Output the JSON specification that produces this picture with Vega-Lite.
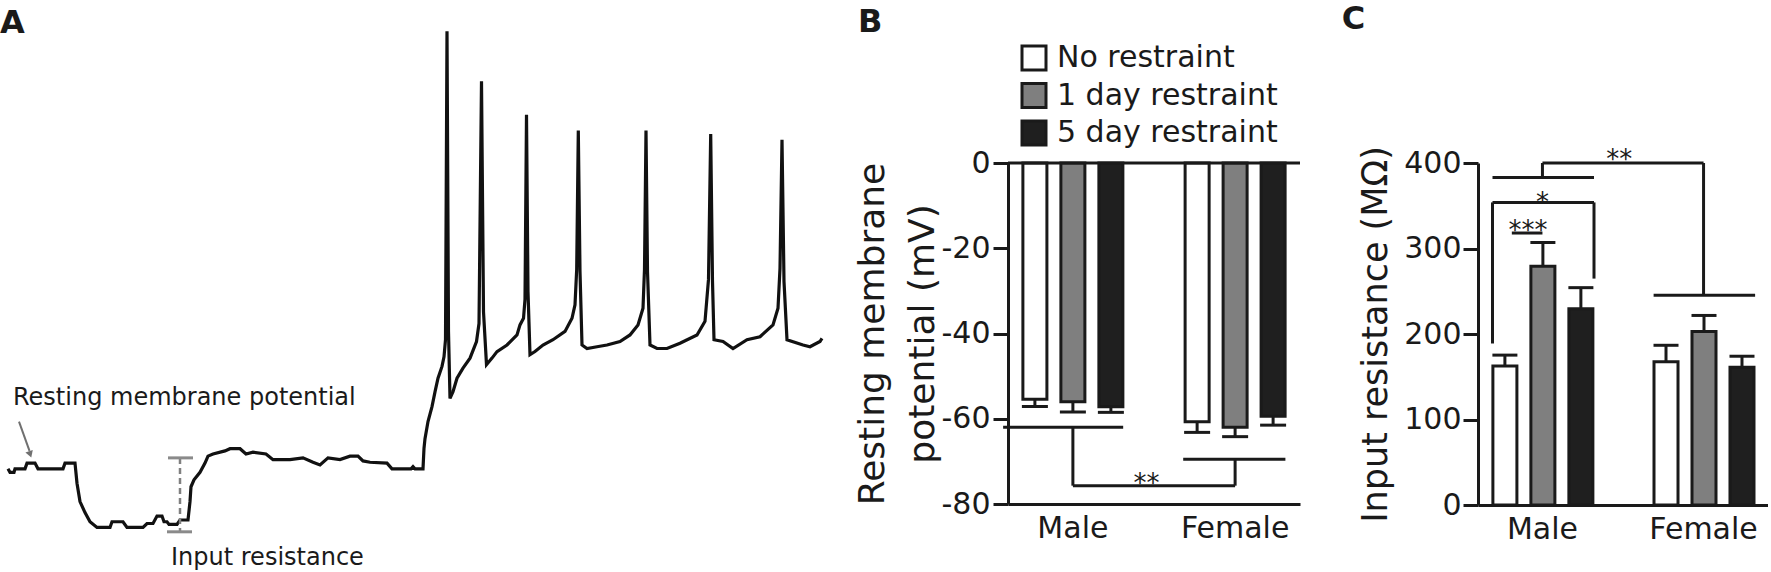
{
  "$schema": "https://vega.github.io/schema/vega-lite/v6.json",
  "padding": {"left": 0, "top": 2, "right": 0, "bottom": 0},
  "background": "white",
  "bounds": "flush",
  "spacing": 178,
  "resolve": {"scale": {"fill": "independent"}, "legend": {"fill": "independent"}},
  "config": {
    "view": {"stroke": null},
    "font": "DejaVu Sans",
    "title": {"font": "DejaVu Sans", "fontSize": 32, "fontWeight": "bold", "anchor": "start", "frame": "bounds", "color": "#1a1a1a"},
    "axis": {"domainColor": "#1a1a1a", "tickColor": "#1a1a1a", "labelColor": "#1a1a1a", "titleColor": "#1a1a1a", "labelFont": "DejaVu Sans", "titleFont": "DejaVu Sans", "labelFontSize": 30, "titleFontSize": 35, "titleFontWeight": "normal", "domainWidth": 3, "tickWidth": 3, "grid": false}
  },
  "datasets": {
    "trace": [
      {"t": 8, "v": -59.9}, {"t": 10, "v": -60.7}, {"t": 14, "v": -60.7}, {"t": 15, "v": -59.9}, {"t": 25, "v": -59.9},
      {"t": 27, "v": -58.6}, {"t": 35, "v": -58.6}, {"t": 38, "v": -59.9}, {"t": 63, "v": -59.9}, {"t": 65, "v": -58.6},
      {"t": 75, "v": -58.6}, {"t": 77, "v": -63.2}, {"t": 80, "v": -67.4}, {"t": 85, "v": -69.9}, {"t": 90, "v": -72.0},
      {"t": 97, "v": -73.3}, {"t": 110, "v": -73.3}, {"t": 112, "v": -72.0}, {"t": 123, "v": -72.0}, {"t": 127, "v": -73.3},
      {"t": 143, "v": -73.3}, {"t": 147, "v": -72.4}, {"t": 153, "v": -72.4}, {"t": 157, "v": -70.7}, {"t": 162, "v": -70.7},
      {"t": 164, "v": -72.0}, {"t": 167, "v": -72.0}, {"t": 169, "v": -72.6}, {"t": 177, "v": -72.6}, {"t": 180, "v": -71.6},
      {"t": 188, "v": -71.6}, {"t": 190, "v": -67.4}, {"t": 191, "v": -64.0}, {"t": 194, "v": -62.4}, {"t": 200, "v": -60.7},
      {"t": 205, "v": -58.6}, {"t": 208, "v": -57.0}, {"t": 213, "v": -56.5}, {"t": 225, "v": -55.8}, {"t": 230, "v": -55.3},
      {"t": 240, "v": -55.3}, {"t": 246, "v": -56.5}, {"t": 253, "v": -56.1}, {"t": 266, "v": -56.5}, {"t": 273, "v": -57.8},
      {"t": 290, "v": -57.8}, {"t": 303, "v": -57.4}, {"t": 313, "v": -58.4}, {"t": 320, "v": -59.0}, {"t": 328, "v": -57.4},
      {"t": 340, "v": -57.8}, {"t": 350, "v": -57.0}, {"t": 358, "v": -57.0}, {"t": 363, "v": -58.1}, {"t": 370, "v": -58.4},
      {"t": 387, "v": -58.6}, {"t": 392, "v": -59.9}, {"t": 411, "v": -59.9}, {"t": 413, "v": -59.4}, {"t": 415, "v": -59.9},
      {"t": 423, "v": -59.9}, {"t": 424, "v": -55.2}, {"t": 425, "v": -53.0}, {"t": 428, "v": -49.1}, {"t": 432, "v": -45.7},
      {"t": 435, "v": -42.3}, {"t": 438, "v": -39.2}, {"t": 442, "v": -36.5}, {"t": 444, "v": -34.3}, {"t": 445.5, "v": -30.4},
      {"t": 447, "v": 40.1}, {"t": 448.5, "v": -28.5}, {"t": 450, "v": -43.8}, {"t": 453, "v": -42.3}, {"t": 457, "v": -39.2},
      {"t": 463, "v": -36.9}, {"t": 470, "v": -34.6}, {"t": 476.5, "v": -30.8}, {"t": 479, "v": -26.7}, {"t": 481.5, "v": 28.7},
      {"t": 483.5, "v": -24.0}, {"t": 486.5, "v": -36.1}, {"t": 492, "v": -34.6}, {"t": 497, "v": -33.1}, {"t": 507, "v": -31.6},
      {"t": 517, "v": -29.3}, {"t": 520, "v": -27.0}, {"t": 523.5, "v": -25.5}, {"t": 525, "v": -21.2}, {"t": 526.5, "v": 21.0},
      {"t": 528, "v": -19.4}, {"t": 530, "v": -33.8}, {"t": 535, "v": -33.1}, {"t": 543, "v": -31.6}, {"t": 553, "v": -30.4},
      {"t": 565, "v": -28.5}, {"t": 572, "v": -25.5}, {"t": 575, "v": -22.4}, {"t": 576.7, "v": -14.3}, {"t": 578.3, "v": 17.4},
      {"t": 580, "v": -14.8}, {"t": 582, "v": -31.6}, {"t": 587, "v": -32.4}, {"t": 597, "v": -32.0}, {"t": 607, "v": -31.6},
      {"t": 620, "v": -30.8}, {"t": 630, "v": -29.3}, {"t": 638, "v": -27.0}, {"t": 643, "v": -23.2}, {"t": 644.5, "v": -14.3},
      {"t": 646, "v": 17.4}, {"t": 647.5, "v": -14.8}, {"t": 650, "v": -31.6}, {"t": 657, "v": -32.4}, {"t": 667, "v": -32.4},
      {"t": 680, "v": -31.2}, {"t": 697, "v": -29.3}, {"t": 705, "v": -26.2}, {"t": 708.5, "v": -16.6}, {"t": 710.7, "v": 16.6},
      {"t": 712.5, "v": -17.1}, {"t": 714, "v": -30.4}, {"t": 723, "v": -30.8}, {"t": 733, "v": -32.4}, {"t": 747, "v": -30.4},
      {"t": 760, "v": -29.7}, {"t": 773, "v": -27.0}, {"t": 778, "v": -23.2}, {"t": 780, "v": -14.1}, {"t": 782, "v": 15.3},
      {"t": 784, "v": -17.1}, {"t": 787, "v": -30.4}, {"t": 803, "v": -31.6}, {"t": 810, "v": -32.0}, {"t": 820, "v": -30.8},
      {"t": 822, "v": -30.1}
    ],
    "rmp": [
      {"sex": "Male", "cond": "No restraint", "v": -55.4, "err": -57.1},
      {"sex": "Male", "cond": "1 day restraint", "v": -56.0, "err": -58.4},
      {"sex": "Male", "cond": "5 day restraint", "v": -57.2, "err": -58.5},
      {"sex": "Female", "cond": "No restraint", "v": -60.7, "err": -63.2},
      {"sex": "Female", "cond": "1 day restraint", "v": -62.0, "err": -64.2},
      {"sex": "Female", "cond": "5 day restraint", "v": -59.4, "err": -61.5}
    ],
    "ir": [
      {"sex": "Male", "cond": "No restraint", "v": 162.5, "err": 175.3},
      {"sex": "Male", "cond": "1 day restraint", "v": 279.3, "err": 307.0},
      {"sex": "Male", "cond": "5 day restraint", "v": 229.4, "err": 254.2},
      {"sex": "Female", "cond": "No restraint", "v": 167.6, "err": 186.8},
      {"sex": "Female", "cond": "1 day restraint", "v": 203.0, "err": 221.7},
      {"sex": "Female", "cond": "5 day restraint", "v": 161.2, "err": 174.0}
    ],
    "bracketsB": [
      {"x": -0.43, "x2": 0.31, "y": -62.0, "y2": -62.0},
      {"x": 0, "x2": 0, "y": -62.0, "y2": -75.7},
      {"x": 0, "x2": 1.0, "y": -75.7, "y2": -75.7},
      {"x": 1.0, "x2": 1.0, "y": -75.7, "y2": -69.5},
      {"x": 0.68, "x2": 1.31, "y": -69.5, "y2": -69.5}
    ],
    "starsB": [{"x": 0.454, "y": -77.1, "label": "**"}],
    "bracketsC": [
      {"x": -0.19, "x2": 0, "y": 318.1, "y2": 318.1},
      {"x": -0.31, "x2": -0.31, "y": 188.9, "y2": 353.9},
      {"x": -0.31, "x2": 0.32, "y": 353.9, "y2": 353.9},
      {"x": 0.32, "x2": 0.32, "y": 353.9, "y2": 264.8},
      {"x": -0.31, "x2": 0.32, "y": 382.9, "y2": 382.9},
      {"x": 0, "x2": 0, "y": 382.9, "y2": 400},
      {"x": 0, "x2": 1.0, "y": 400, "y2": 400},
      {"x": 1.0, "x2": 1.0, "y": 400, "y2": 245.2},
      {"x": 0.69, "x2": 1.32, "y": 245.2, "y2": 245.2}
    ],
    "starsC": [
      {"x": -0.09, "y": 311.0, "label": "***"},
      {"x": 0.0, "y": 344.4, "label": "*"},
      {"x": 0.477, "y": 394.3, "label": "**"}
    ]
  },
  "hconcat": [
    {
      "width": 830,
      "height": 350,
      "title": {"text": "A", "offset": 0, "dy": 15},
      "layer": [
        {
          "data": {"name": "trace"},
          "mark": {"type": "line", "stroke": "#111111", "strokeWidth": 3.2, "clip": false},
          "encoding": {
            "x": {"field": "t", "type": "quantitative", "scale": {"domain": [0, 830], "nice": false, "zero": false}, "axis": null},
            "y": {"field": "v", "type": "quantitative", "scale": {"domain": [-70, 10], "nice": false, "zero": false}, "axis": null}
          }
        },
        {
          "data": {"values": [{"x": 180, "y": -57.4, "y2": -74.1}]},
          "mark": {"type": "rule", "stroke": "#808080", "strokeWidth": 2.5, "strokeDash": [6, 4]},
          "encoding": {
            "x": {"field": "x", "type": "quantitative"},
            "y": {"field": "y", "type": "quantitative"},
            "y2": {"field": "y2"}
          }
        },
        {
          "data": {"values": [{"x": 168, "x2": 193, "y": -57.4}, {"x": 167, "x2": 192, "y": -74.3}]},
          "mark": {"type": "rule", "stroke": "#8a8a8a", "strokeWidth": 3},
          "encoding": {
            "x": {"field": "x", "type": "quantitative"},
            "x2": {"field": "x2"},
            "y": {"field": "y", "type": "quantitative"}
          }
        },
        {
          "data": {"values": [{"x": 19, "x2": 29.5, "y": -49.1, "y2": -55.8}]},
          "mark": {"type": "rule", "stroke": "#707070", "strokeWidth": 2},
          "encoding": {
            "x": {"field": "x", "type": "quantitative"},
            "x2": {"field": "x2"},
            "y": {"field": "y", "type": "quantitative"},
            "y2": {"field": "y2"}
          }
        },
        {
          "data": {"values": [{"x": 30.2, "y": -56.6}]},
          "mark": {"type": "point", "shape": "triangle-down", "angle": -19, "size": 60, "filled": true, "color": "#707070", "opacity": 1},
          "encoding": {
            "x": {"field": "x", "type": "quantitative"},
            "y": {"field": "y", "type": "quantitative"}
          }
        },
        {
          "data": {"values": [{"x": 13, "y": -45.3, "label": "Resting membrane potential"}, {"x": 171, "y": -81.9, "label": "Input resistance"}]},
          "mark": {"type": "text", "font": "DejaVu Sans", "fontSize": 24, "align": "left", "baseline": "alphabetic", "color": "#1a1a1a"},
          "encoding": {
            "x": {"field": "x", "type": "quantitative"},
            "y": {"field": "y", "type": "quantitative"},
            "text": {"field": "label"}
          }
        }
      ]
    },
    {
      "width": 292,
      "height": 341,
      "title": {"text": "B", "offset": 0, "dy": -3.6, "dx": 4},
      "resolve": {"scale": {"x": "independent"}, "axis": {"x": "independent"}},
      "layer": [
        {
          "data": {"name": "rmp"},
          "layer": [
            {
              "mark": {"type": "bar", "stroke": "#1a1a1a", "strokeWidth": 3},
              "encoding": {
                "x": {"field": "sex", "type": "nominal", "sort": ["Male", "Female"], "scale": {"paddingInner": 0.2, "paddingOuter": 0}, "axis": {"title": null, "ticks": false, "tickSize": 0, "labelAngle": 0, "labelPadding": 9, "domainWidth": 3}},
                "xOffset": {"field": "cond", "type": "nominal", "sort": ["No restraint", "1 day restraint", "5 day restraint"], "scale": {"paddingInner": 0.368, "paddingOuter": 0.392}},
                "y": {"field": "v", "type": "quantitative", "scale": {"domain": [-80, 0], "nice": false}, "axis": {"values": [0, -20, -40, -60, -80], "labelExpr": "replace(datum.label, '\u2212', '-')", "tickSize": 15, "labelPadding": 3, "title": ["Resting membrane", "potential (mV)"], "titleFontSize": 36, "titlePadding": 0, "titleLineHeight": 50}},
                "fill": {"field": "cond", "type": "nominal", "sort": ["No restraint", "1 day restraint", "5 day restraint"], "scale": {"domain": ["No restraint", "1 day restraint", "5 day restraint"], "range": ["#ffffff", "#7f7f7f", "#1f1f1f"]},
                  "legend": {"title": null, "orient": "none", "legendX": 11, "legendY": -120, "direction": "vertical", "symbolType": "square", "symbolSize": 576, "symbolStrokeColor": "#1a1a1a", "symbolStrokeWidth": 3, "symbolOpacity": 1, "labelFont": "DejaVu Sans", "labelFontSize": 30, "labelColor": "#1a1a1a", "labelOffset": 8, "labelLimit": 500, "rowPadding": 1.5, "padding": 0}}
              }
            },
            {
              "mark": {"type": "rule", "strokeWidth": 3, "color": "#1a1a1a"},
              "encoding": {
                "x": {"field": "sex", "type": "nominal", "sort": ["Male", "Female"]},
                "xOffset": {"field": "cond", "type": "nominal", "sort": ["No restraint", "1 day restraint", "5 day restraint"]},
                "y": {"field": "v", "type": "quantitative"},
                "y2": {"field": "err"}
              }
            },
            {
              "mark": {"type": "tick", "orient": "horizontal", "size": 26, "thickness": 3, "color": "#1a1a1a", "opacity": 1},
              "encoding": {
                "x": {"field": "sex", "type": "nominal", "sort": ["Male", "Female"]},
                "xOffset": {"field": "cond", "type": "nominal", "sort": ["No restraint", "1 day restraint", "5 day restraint"]},
                "y": {"field": "err", "type": "quantitative"}
              }
            },
            {
              "data": {"values": [{"zero": 0}]},
              "mark": {"type": "rule", "strokeWidth": 3, "color": "#1a1a1a"},
              "encoding": {"y": {"field": "zero", "type": "quantitative"}}
            }
          ]
        },
        {
          "layer": [
            {
              "data": {"name": "bracketsB"},
              "mark": {"type": "rule", "strokeWidth": 3, "color": "#1a1a1a", "clip": false},
              "encoding": {
                "x": {"field": "x", "type": "quantitative", "scale": {"domain": [-0.4, 1.4], "nice": false, "zero": false}, "axis": null},
                "x2": {"field": "x2"},
                "y": {"field": "y", "type": "quantitative"},
                "y2": {"field": "y2"}
              }
            },
            {
              "data": {"name": "starsB"},
              "mark": {"type": "text", "font": "DejaVu Sans", "fontSize": 26, "align": "center", "baseline": "alphabetic", "color": "#1a1a1a"},
              "encoding": {
                "x": {"field": "x", "type": "quantitative", "scale": {"domain": [-0.4, 1.4], "nice": false, "zero": false}, "axis": null},
                "y": {"field": "y", "type": "quantitative"},
                "text": {"field": "label"}
              }
            }
          ]
        }
      ]
    },
    {
      "width": 290,
      "height": 342,
      "title": {"text": "C", "offset": 110, "dx": -17},
      "resolve": {"scale": {"x": "independent"}, "axis": {"x": "independent"}},
      "layer": [
        {
          "data": {"name": "ir"},
          "layer": [
            {
              "mark": {"type": "bar", "stroke": "#1a1a1a", "strokeWidth": 3},
              "encoding": {
                "x": {"field": "sex", "type": "nominal", "sort": ["Male", "Female"], "scale": {"paddingInner": 0.2, "paddingOuter": 0}, "axis": {"title": null, "ticks": false, "tickSize": 0, "labelAngle": 0, "labelPadding": 9, "domainWidth": 3}},
                "xOffset": {"field": "cond", "type": "nominal", "sort": ["No restraint", "1 day restraint", "5 day restraint"], "scale": {"paddingInner": 0.368, "paddingOuter": 0.392}},
                "y": {"field": "v", "type": "quantitative", "scale": {"domain": [0, 400], "nice": false}, "axis": {"values": [0, 100, 200, 300, 400], "tickSize": 15, "labelPadding": 2, "title": "Input resistance (MΩ)", "titlePadding": 10}},
                "fill": {"field": "cond", "type": "nominal", "sort": ["No restraint", "1 day restraint", "5 day restraint"], "scale": {"domain": ["No restraint", "1 day restraint", "5 day restraint"], "range": ["#ffffff", "#7f7f7f", "#1f1f1f"]}, "legend": null}
              }
            },
            {
              "mark": {"type": "rule", "strokeWidth": 3, "color": "#1a1a1a"},
              "encoding": {
                "x": {"field": "sex", "type": "nominal", "sort": ["Male", "Female"]},
                "xOffset": {"field": "cond", "type": "nominal", "sort": ["No restraint", "1 day restraint", "5 day restraint"]},
                "y": {"field": "v", "type": "quantitative"},
                "y2": {"field": "err"}
              }
            },
            {
              "mark": {"type": "tick", "orient": "horizontal", "size": 25, "thickness": 3, "color": "#1a1a1a", "opacity": 1},
              "encoding": {
                "x": {"field": "sex", "type": "nominal", "sort": ["Male", "Female"]},
                "xOffset": {"field": "cond", "type": "nominal", "sort": ["No restraint", "1 day restraint", "5 day restraint"]},
                "y": {"field": "err", "type": "quantitative"}
              }
            }
          ]
        },
        {
          "layer": [
            {
              "data": {"name": "bracketsC"},
              "mark": {"type": "rule", "strokeWidth": 3, "color": "#1a1a1a", "clip": false},
              "encoding": {
                "x": {"field": "x", "type": "quantitative", "scale": {"domain": [-0.4, 1.4], "nice": false, "zero": false}, "axis": null},
                "x2": {"field": "x2"},
                "y": {"field": "y", "type": "quantitative"},
                "y2": {"field": "y2"}
              }
            },
            {
              "data": {"name": "starsC"},
              "mark": {"type": "text", "font": "DejaVu Sans", "fontSize": 26, "align": "center", "baseline": "alphabetic", "color": "#1a1a1a"},
              "encoding": {
                "x": {"field": "x", "type": "quantitative", "scale": {"domain": [-0.4, 1.4], "nice": false, "zero": false}, "axis": null},
                "y": {"field": "y", "type": "quantitative"},
                "text": {"field": "label"}
              }
            }
          ]
        }
      ]
    }
  ]
}
